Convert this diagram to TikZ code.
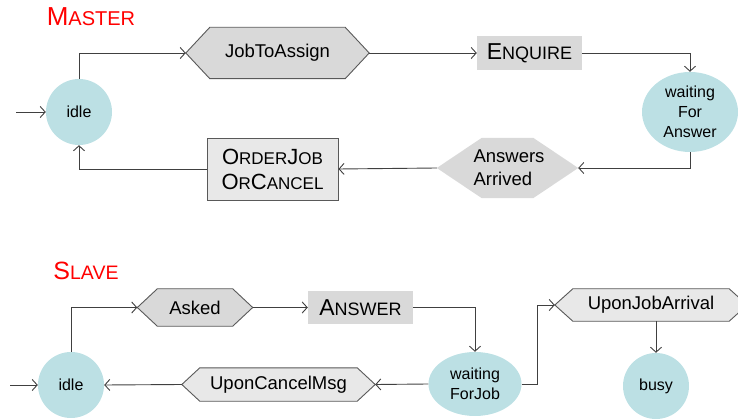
\documentclass[tikz,border=0pt]{standalone}
\usepackage{fontspec}
\setmainfont{Liberation Sans}
\usetikzlibrary{arrows.meta,shapes.geometric,backgrounds}
\definecolor{stc}{HTML}{BCE0E4}
\definecolor{hexd}{HTML}{D9D9D9}
\definecolor{hexl}{HTML}{E8E8E8}
\definecolor{ln}{HTML}{404040}
\definecolor{bd}{HTML}{595959}
\newcommand\fsc[2]{{\fontsize{#1}{#1}\selectfont #2}}
\newcommand\hexpath[3]{\path[#3] ([xshift=-#2pt]#1.west) -- (#1.north west) -- (#1.north east) -- ([xshift=#2pt]#1.east) -- (#1.south east) -- (#1.south west) -- cycle;}
\begin{document}
\begin{tikzpicture}[x=1pt,y=-1pt,
  state/.style={circle,fill=stc,draw=none,minimum size=66pt,inner sep=0pt,font=\fontsize{16}{20}\selectfont,align=center},
  stell/.style={ellipse,fill=stc,draw=none,inner sep=0pt,font=\fontsize{16}{20}\selectfont,align=center},
  lab/.style={rectangle,inner sep=0pt,font=\fontsize{18.5}{23}\selectfont,align=center},
  sbox/.style={rectangle,inner sep=0pt,align=center},
  conn/.style={draw=ln,line width=0.9pt,-{Straight Barb[length=5pt,width=11pt]}},
  titl/.style={text=red,inner sep=0pt},
  hexdark/.style={fill=hexd,draw=bd,line width=0.9pt},
  hexlight/.style={fill=hexl,draw=bd,line width=0.9pt},
  hexplain/.style={fill=hexd,draw=none}]
\useasboundingbox (0,0) rectangle (738,419);

% ---------- MASTER ----------
\node[titl] (mtitle) at (91,17) {\fsc{26}{M}\fsc{20}{ASTER}};
\node[state] (idleM) at (79,112) {idle};
\node[lab,minimum width=135pt,minimum height=51pt] (jta) at (277.5,53) {JobToAssign};
\node[sbox,fill=hexd,minimum width=105pt,minimum height=34pt,font=\fontsize{23}{25}\selectfont] (enq) at (529.5,53) {\fsc{23}{E}\fsc{18}{NQUIRE}};
\node[stell,minimum width=96pt,minimum height=80pt] (wfa) at (690,112) {waiting\\For\\Answer};
\node[lab,minimum width=51pt,minimum height=60pt] (aa) at (507.5,168) {};
\node[lab,align=left] (aat) at (509,168) {Answers\\Arrived};
\node[sbox,fill=hexl,draw=bd,line width=0.9pt,minimum width=131pt,minimum height=62pt,font=\fontsize{22}{25}\selectfont] (ocb) at (272.5,169)
  {\fsc{22}{O}\fsc{17}{RDER}\fsc{22}{J}\fsc{17}{OB}\\\fsc{22}{O}\fsc{17}{R}\fsc{22}{C}\fsc{17}{ANCEL}};

\begin{scope}[on background layer]
  \hexpath{jta}{24}{hexdark}
  \hexpath{aa}{45}{hexplain}
\end{scope}
\coordinate (jtaL) at ([xshift=-24pt]jta.west);
\coordinate (jtaR) at ([xshift=24pt]jta.east);
\coordinate (aaL) at ([xshift=-45pt]aa.west);
\coordinate (aaR) at ([xshift=45pt]aa.east);
\coordinate (sM) at (16,112);

\draw[conn] (sM) -- (idleM);
\draw[conn] (idleM.north) |- (jtaL);
\draw[conn] (jtaR) -- (enq.west);
\draw[conn] (enq.east) -| (wfa.north);
\draw[conn] (wfa.south) |- (aaR);
\draw[conn] (aaL) -- (ocb.east);
\draw[conn] (ocb.west) -| (idleM.south);

% ---------- SLAVE ----------
\node[titl] (stitle) at (86,271) {\fsc{25}{S}\fsc{19.5}{LAVE}};
\node[state] (idleS) at (71,385) {idle};
\node[lab,minimum width=75pt,minimum height=37pt] (asked) at (195,307.5) {Asked};
\node[sbox,fill=hexd,minimum width=105pt,minimum height=33pt] (ans) at (360.5,307.5) {\fsc{23}{A}\fsc{18}{NSWER}};
\node[stell,minimum width=93pt,minimum height=64pt] (wfj) at (475,384) {waiting\\ForJob};
\node[lab,minimum width=157pt,minimum height=33pt] (ucm) at (278.5,384.5) {UponCancelMsg};
\node[lab,minimum width=156pt,minimum height=32pt] (uja) at (651,305) {UponJobArrival};
\node[state] (busy) at (656,386) {busy};

\begin{scope}[on background layer]
  \hexpath{asked}{20}{hexdark}
  \hexpath{ucm}{18}{hexlight}
  \begin{scope}
    \clip (0,0) rectangle (738,419);
    \hexpath{uja}{18}{hexlight}
  \end{scope}
\end{scope}
\coordinate (askedL) at ([xshift=-20pt]asked.west);
\coordinate (askedR) at ([xshift=20pt]asked.east);
\coordinate (ucmL) at ([xshift=-18pt]ucm.west);
\coordinate (ucmR) at ([xshift=18pt]ucm.east);
\coordinate (ujaL) at ([xshift=-18pt]uja.west);
\coordinate (sS) at (10,385);

\draw[conn] (sS) -- (idleS);
\draw[conn] (idleS.north) |- (askedL);
\draw[conn] (askedR) -- (ans.west);
\draw[conn] (ans.east) -| (wfj.north);
\draw[conn] (wfj.west) -- (ucmR);
\draw[conn] (ucmL) -- (idleS.east);
\draw[conn] (wfj.east) -- ++(16,0) |- (ujaL);
\draw[conn] (busy.north |- uja.south) -- (busy.north);
\end{tikzpicture}
\end{document}
